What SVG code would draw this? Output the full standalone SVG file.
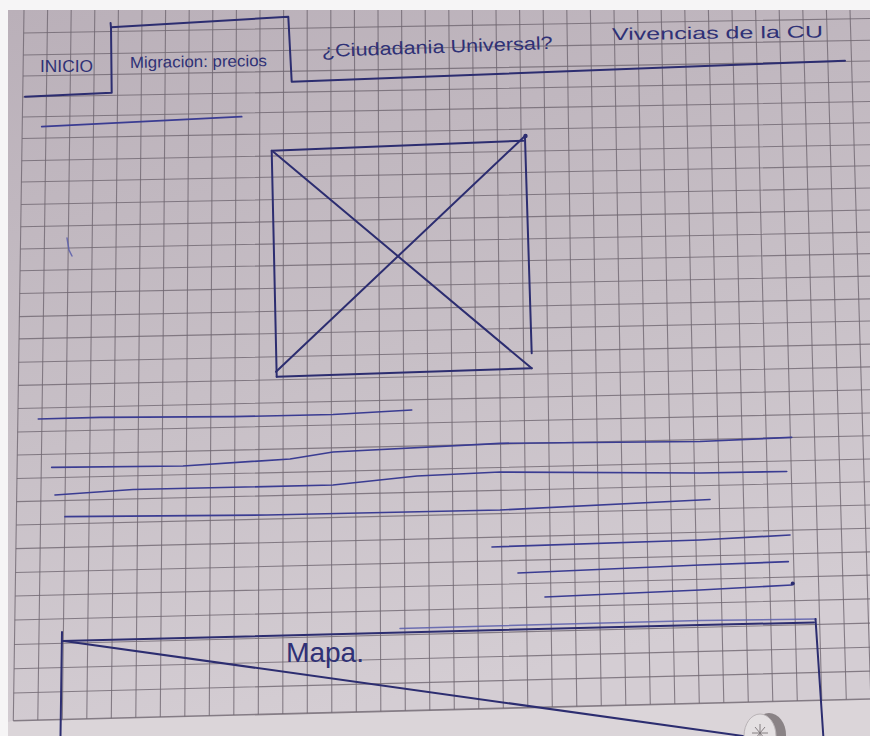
<svg xmlns="http://www.w3.org/2000/svg" width="870" height="736" viewBox="0 0 870 736">
<defs>
<linearGradient id="paperGrad" x1="0" y1="0" x2="0.25" y2="1">
<stop offset="0" stop-color="#bab0b9"/>
<stop offset="0.55" stop-color="#c7bfc6"/>
<stop offset="1" stop-color="#d4cdd3"/>
</linearGradient>
<style>
.grid{stroke:#6f6771;stroke-width:1.1;fill:none;opacity:0.8}
.ink{stroke:#2c2d70;stroke-width:2;fill:none;stroke-linecap:round;stroke-linejoin:round}
.ink-text{stroke:#3a3c92;stroke-width:1.7;fill:none;stroke-linecap:round;stroke-linejoin:round}
.ink-faint{stroke:#5b5eab;stroke-width:1.5;fill:none;stroke-linecap:round;opacity:0.85}
.hand{font-family:"Liberation Sans","DejaVu Sans",sans-serif;fill:#2f3176}
</style>
</defs>

<g id="paper">
<rect x="0" y="0" width="870" height="736" fill="#f6f5f6"/>
<rect x="8" y="10" width="862" height="726" fill="url(#paperGrad)"/>
<polygon points="8,722 13.3,720.7 870,699 870,736 8,736" fill="#dbd5d9"/>
</g>

<g id="grid">
<path class="grid" d="M24,10L13.3,720.7M47.6,10L37.8,720.1M71.2,10L62.3,719.5M94.8,10L86.8,718.8M118.4,10L111.3,718.2M142,10L135.8,717.6M165.6,10L160.3,717M189.2,10L184.8,716.4M212.8,10L209.3,715.7M236.4,10L233.8,715.1M260,10L258.3,714.5M283.6,10L282.8,713.9M307.2,10L307.3,713.3M330.8,10L331.8,712.7M354.4,10L356.3,712M378,10L380.8,711.4M401.6,10L405.3,710.8M425.2,10L429.8,710.2M448.8,10L454.3,709.5M472.4,10L478.8,708.9M496,10L503.3,708.3M519.6,10L527.8,707.7M543.2,10L552.3,707.1M566.8,10L576.8,706.4M590.4,10L601.3,705.8M614,10L625.8,705.2M637.6,10L650.3,704.6M661.2,10L674.8,704M684.8,10L699.3,703.3M708.4,10L723.8,702.7M732,10L748.3,702.1M755.6,10L772.8,701.5M779.2,10L797.3,700.9M802.8,10L821.8,700.3M826.4,10L846.3,699.6M850,10L870.8,699"/>
<path class="grid" d="M23.7,33L870,18.5M23.3,55L870,40.3M23,76L870,61M22.7,97L870,81.75M22.4,117L870,101.55M22.1,138.5L870,122.8M21.7,160.7L870,144.75M21.4,182L870,165.8M21.1,204.5L870,188M20.7,226.7L870,210.05M20.4,249L870,232.1M20.1,270.8L870,253.65M19.7,293.5L870,276.1M19.4,316.6L870,298.9M19,338.9L870,320.95M18.7,362.3L870,344.1M18.3,385.4L870,366.9M18,408.5L870,389.75M17.6,432L870,413M17.3,455L870,435.7M16.9,478.5L870,459M16.6,501.6L870,481.8M16.2,525L870,504.95M15.9,548.6L870,528.3M15.5,572.5L870,551.9M15.2,596L870,575.15M14.8,620L870,598.9M14.4,644.5L870,623.1M14.1,668.8L870,647.2M13.7,693L870,671.15"/>
<path class="grid" style="stroke-width:1.6" d="M13.3,720.7L870,699"/>
</g>

<g id="nav">
<g id="nav-lines">
<path class="ink" d="M25,96.7 L111.7,92.7 L111,27.3 L288.3,16.7 L291.7,81.7 L845,60.7"/>
<path class="ink" d="M110.6,23 L111,28"/>
</g>
<g id="tab-inicio">
<text class="hand" x="40" y="72" font-size="17" textLength="53" lengthAdjust="spacingAndGlyphs">INICIO</text>
</g>
<g id="tab-migracion">
<text class="hand" x="130" y="68" font-size="16" textLength="137" lengthAdjust="spacingAndGlyphs" transform="rotate(-0.8 130 68)">Migracion: precios</text>
</g>
<g id="tab-ciudadania">
<text class="hand" x="322" y="57" font-size="18" textLength="231" lengthAdjust="spacingAndGlyphs" transform="rotate(-2 322 57)">¿Ciudadania Universal?</text>
</g>
<g id="tab-vivencias">
<text class="hand" x="612" y="40" font-size="17" textLength="211" lengthAdjust="spacingAndGlyphs" transform="rotate(-0.7 612 40)">Vivencias de la CU</text>
</g>
</g>

<g id="heading-line">
<path class="ink-text" d="M41.7,126.7 L241.7,116.7"/>
</g>

<g id="stray-mark">
<path class="ink-faint" d="M67,238 L69,250 L72,256"/>
</g>

<g id="image-placeholder">
<path class="ink" d="M271.7,150.7 L523.3,140.7"/>
<path class="ink" d="M525,138.3 L531.7,353.3"/>
<path class="ink" d="M276.7,376.7 L531.7,368.3"/>
<path class="ink" d="M271.7,150.7 L276.7,376.7"/>
<path class="ink" d="M273.3,151.7 L531.7,368.3"/>
<path class="ink" d="M276,371.7 L526,135"/>
<circle cx="525.5" cy="136" r="2.2" fill="#2c2d70"/>
</g>

<g id="text-lines">
<path class="ink-text" d="M38.3,419 L100,417.3 L233,416.7 L333,414.5 L411.7,410"/>
<path class="ink-text" d="M51.7,467.3 L183,466 L290,459 L333,452 L500,443.3 L700,441.5 L791.7,437.3"/>
<path class="ink-text" d="M55,495 L133,489.5 L333,485 L417,476 L500,472 L700,473 L786.7,471.5"/>
<path class="ink-text" d="M65,516.7 L267,515 L500,510 L710,499.5"/>
<path class="ink-text" d="M492,547 L700,540 L790,535"/>
<path class="ink-text" d="M518,573 L700,565 L788.3,561.7"/>
<path class="ink-text" d="M545,597 L700,590 L791.7,585"/>
<circle cx="792.7" cy="583.5" r="2" fill="#2c2d70"/>
</g>

<g id="map">
<path class="ink" d="M62,632 L60.5,736"/>
<path class="ink" d="M62,641 L700,625 L814,622.5"/>
<path class="ink-faint" d="M400,628.5 L700,620.5 L816,619"/>
<path class="ink" d="M815.5,619 L823.3,736"/>
<path class="ink" d="M64,641 L750,737"/>
<text class="hand" x="286" y="662" font-size="27" textLength="78" lengthAdjust="spacingAndGlyphs">Mapa.</text>
</g>

<g id="pin">
<ellipse cx="769" cy="735" rx="17" ry="22" fill="#8a8386"/>
<ellipse cx="760" cy="736" rx="16" ry="22" fill="#e4e0e2" stroke="#b9b3b6" stroke-width="1"/>
<path d="M760,724 L760,742 M752,733 L768,733 M755,727 L765,739 M765,727 L755,739" stroke="#7a7477" stroke-width="0.9" fill="none"/>
</g>
</svg>
